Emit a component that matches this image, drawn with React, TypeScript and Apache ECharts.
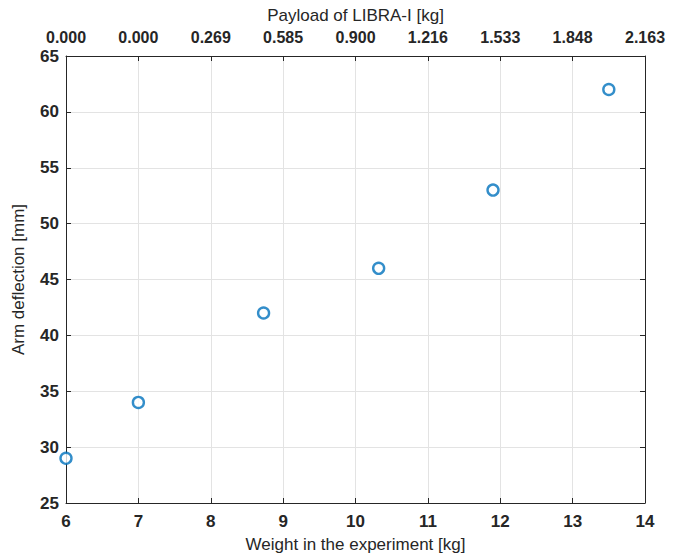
import React, { useEffect, useRef } from "react";
import * as echarts from "echarts";

const weights = [6, 7, 8.73, 10.32, 11.9, 13.5];
const deflections = [29, 34, 42, 46, 53, 62];
const topTickLabels = ["0.000", "0.000", "0.269", "0.585", "0.900", "1.216", "1.533", "1.848", "2.163"];

const FONT = "'Liberation Sans', Arial, 'Noto Sans', sans-serif";

export default function App() {
  const ref = useRef<HTMLDivElement>(null);
  useEffect(() => {
    if (!ref.current) return;
    const chart = echarts.init(ref.current, undefined, { renderer: "svg" });
    const axisLine = { show: true, lineStyle: { color: "#262626", width: 1 } };
    const tickStyle = { show: true, inside: true, length: 5, lineStyle: { color: "#262626" } };
    const labelStyle = { color: "#262626", fontSize: 17, lineHeight: 17, fontWeight: "bold" as any, fontFamily: FONT };
    const nameStyle = { color: "#262626", fontSize: 17, lineHeight: 17, fontFamily: FONT };
    chart.setOption({
      animation: false,
      backgroundColor: "#ffffff",
      grid: { left: 66, right: 35, top: 56, bottom: 53, containLabel: false, outerBoundsMode: "none" },
      xAxis: [
        {
          type: "value",
          min: 6,
          max: 14,
          interval: 1,
          position: "bottom",
          name: "Weight in the experiment [kg]",
          nameLocation: "middle",
          nameGap: 33,
          nameTextStyle: nameStyle,
          axisLine,
          axisTick: tickStyle,
          axisLabel: { ...labelStyle, margin: 10 },
          splitLine: { show: true, lineStyle: { color: "#e3e3e3", width: 1 } },
        },
        {
          type: "value",
          min: 6,
          max: 14,
          interval: 1,
          position: "top",
          name: "Payload of LIBRA-I [kg]",
          nameLocation: "middle",
          nameGap: 29,
          nameTextStyle: nameStyle,
          axisLine,
          axisTick: tickStyle,
          axisLabel: {
            ...labelStyle,
            fontSize: 16,
            lineHeight: 16,
            margin: 11,
            formatter: (v: number) => topTickLabels[Math.round(v - 6)] ?? "",
          },
          splitLine: { show: false },
        },
      ],
      yAxis: [
        {
          type: "value",
          min: 25,
          max: 65,
          interval: 5,
          position: "left",
          name: "Arm deflection [mm]",
          nameLocation: "middle",
          nameGap: 39,
          nameTextStyle: nameStyle,
          axisLine,
          axisTick: tickStyle,
          axisLabel: { ...labelStyle, margin: 7 },
          splitLine: { show: true, lineStyle: { color: "#e3e3e3", width: 1 } },
        },
        {
          type: "value",
          min: 25,
          max: 65,
          interval: 5,
          position: "right",
          axisLine,
          axisTick: tickStyle,
          axisLabel: { show: false },
          splitLine: { show: false },
        },
      ],
      series: [
        {
          type: "scatter",
          xAxisIndex: 0,
          yAxisIndex: 0,
          data: weights.map((w, i) => [w, deflections[i]]),
          symbol: "circle",
          symbolSize: 11,
          itemStyle: { color: "#ffffff", borderColor: "#0072BD", borderWidth: 2.4 },
        },
      ],
    });
    return () => chart.dispose();
  }, []);
  return <div ref={ref} style={{ width: 680, height: 556, position: "absolute", left: 0, top: 0 }} />;
}
